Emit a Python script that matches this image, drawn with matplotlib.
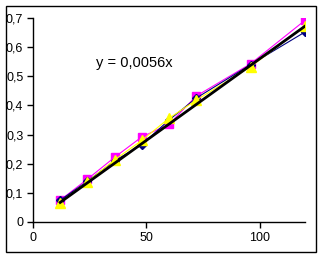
import matplotlib
matplotlib.use("Agg")
import matplotlib.pyplot as plt
from matplotlib.ticker import FuncFormatter
import numpy as np

x = [12, 24, 36, 48, 60, 72, 96, 120]
s_navy = [0.075, 0.14, 0.21, 0.265, 0.35, 0.425, 0.54, 0.652]
s_magenta = [0.075, 0.147, 0.222, 0.292, 0.335, 0.432, 0.543, 0.692]
s_yellow = [0.066, 0.138, 0.213, 0.28, 0.356, 0.418, 0.533, 0.672]
slope = 0.0056
trend_x = [12, 120]
equation = "y = 0,0056x"

plt.rcParams['font.family'] = ['Liberation Sans', 'DejaVu Sans']
fig = plt.figure(figsize=(3.24, 2.59), dpi=100)
fig.patch.set_facecolor('white')
border = plt.Rectangle((6/324, 1-252/259), 310/324, 246/259, transform=fig.transFigure,
                       fill=False, edgecolor='black', linewidth=1.0)
fig.patches.append(border)

ax = fig.add_axes([33/324, 1-222/259, 272/324, 204/259])
ax.plot(x, s_navy, color='#000080', linewidth=0.8, marker='D', markersize=4, zorder=3)
ax.plot(x, s_magenta, color='#FF00FF', linewidth=0.8, marker='s', markersize=6, zorder=2)
ax.plot(x, s_yellow, color='#FFFF00', linewidth=0.8, marker='^', markersize=6.5, zorder=4)
tx = np.array(trend_x)
ax.plot(tx, slope * tx, color='black', linewidth=2.0, zorder=5)

ax.set_xlim(0, 120)
ax.set_ylim(0, 0.7)
ax.set_xticks([0, 50, 100])
ax.set_yticks(np.arange(0, 0.71, 0.1))
ax.yaxis.set_major_formatter(FuncFormatter(lambda v, p: "0" if abs(v) < 1e-9 else f"{v:.1f}".replace('.', ',')))
for side in ['top', 'right']:
    ax.spines[side].set_visible(False)
for side in ['left', 'bottom']:
    ax.spines[side].set_linewidth(1.0)
ax.tick_params(direction='out', length=4, width=1.0, labelsize=9, pad=3)
ax.text(28, 0.545, equation, fontsize=10.5, ha='left', va='center')

fig.savefig("out.png", dpi=100, facecolor='white')
